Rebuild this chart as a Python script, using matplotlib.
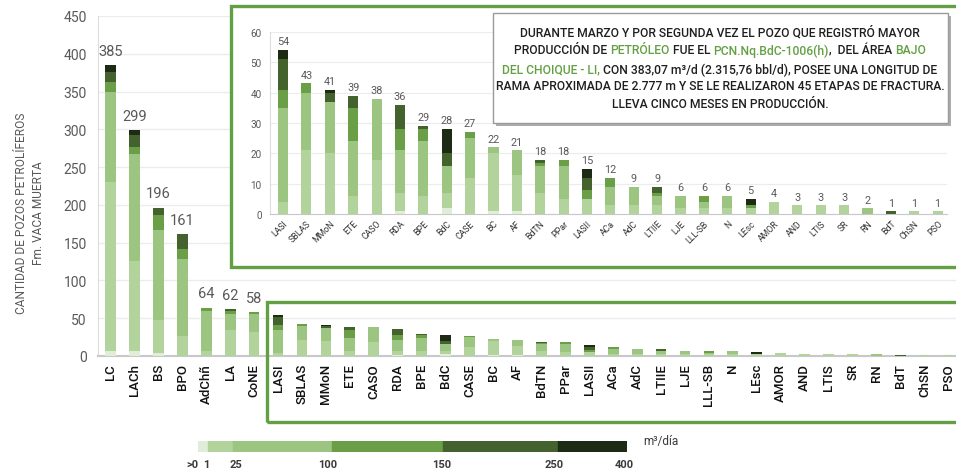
import matplotlib
matplotlib.use('Agg')
import matplotlib.pyplot as plt
import matplotlib.patheffects as pe
from matplotlib.patches import Rectangle
import numpy as np

plt.rcParams['font.family'] = ['Roboto', 'DejaVu Sans']

# categorias (areas)
cats = ['LC', 'LACh', 'BS', 'BPO', 'AdChñ', 'LA', 'CoNE',
        'LASI', 'SBLAS', 'MMoN', 'ETE', 'CASO', 'RDA', 'BPE', 'BdC', 'CASE',
        'BC', 'AF', 'BdTN', 'PPar', 'LASII', 'ACa', 'AdC', 'LTIIE', 'LJE',
        'LLL-SB', 'N', 'LEsc', 'AMOR', 'AND', 'LTIS', 'SR', 'RN', 'BdT',
        'ChSN', 'PSO']

# cantidad de pozos por rango de produccion (m3/dia)
b_0_1 = [6, 7, 4, 0, 0, 0, 0,
         0, 0, 0, 0, 0, 1, 0, 2, 0, 1, 1, 0, 0, 0, 0, 0, 0, 0,
         0, 0, 0, 0, 0, 0, 0, 0, 0, 0, 0]
b_1_25 = [224, 119, 44, 27, 6, 35, 32,
          4, 21, 20, 6, 18, 6, 6, 5, 12, 19, 12, 7, 5, 5, 3, 3, 3, 2,
          2, 2, 2, 4, 3, 3, 3, 0, 0, 1, 1]
b_25_100 = [119, 142, 119, 101, 54, 21, 24,
            31, 19, 17, 18, 20, 14, 18, 9, 13, 2, 8, 9, 11, 0, 6, 6, 3, 4,
            2, 4, 0, 0, 0, 0, 0, 2, 0, 0, 0]
b_100_150 = [13, 8, 19, 13, 4, 3, 2,
             6, 3, 0, 11, 0, 7, 4, 0, 2, 0, 0, 1, 2, 3, 3, 0, 1, 0,
             2, 0, 1, 0, 0, 0, 0, 0, 0, 0, 0]
b_150_250 = [14, 16, 10, 20, 0, 3, 0,
             10, 0, 3, 4, 0, 8, 1, 4, 0, 0, 0, 1, 0, 4, 0, 0, 2, 0,
             0, 0, 0, 0, 0, 0, 0, 0, 1, 0, 0]
b_250_400 = [9, 7, 0, 0, 0, 0, 0,
             3, 0, 1, 0, 0, 0, 0, 8, 0, 0, 0, 0, 0, 3, 0, 0, 0, 0,
             0, 0, 2, 0, 0, 0, 0, 0, 0, 0, 0]

bins = [b_0_1, b_1_25, b_25_100, b_100_150, b_150_250, b_250_400]
colores = ['#e1edd8', '#b2d39b', '#9cc581', '#6a9e47', '#44622d', '#1e2b14']
legend_ticks = ['>0', '1', '25', '100', '150', '250', '400']

totales = np.sum(np.array(bins), axis=0)
n_main = 7

verde = '#62a043'
gris = '#595959'

fig = plt.figure(figsize=(9.56, 4.77), dpi=100)
W, H = 956, 477


def px_axes(x0, y0, x1, y1):
    return fig.add_axes([x0 / W, 1 - y1 / H, (x1 - x0) / W, (y1 - y0) / H])


def stacked(ax, idx, width):
    x = np.arange(len(idx))
    base = np.zeros(len(idx))
    for vals, c in zip(bins, colores):
        v = np.array(vals)[idx]
        ax.bar(x, v, width, bottom=base, color=c, zorder=3)
        base += v
    return x


# grafico principal
ax = px_axes(98, 17, 956, 357)
idx = np.arange(len(cats))
x = stacked(ax, idx, 0.45)
ax.set_xlim(-0.52, 35.32)
ax.set_ylim(0, 450)
ax.set_yticks(range(0, 451, 50))
ax.set_xticks(x)
ax.set_xticklabels(cats, rotation=90, fontsize=9.5, fontweight='medium',
                   color='#111111')
ax.tick_params(axis='y', labelsize=10, colors=gris, length=0, pad=8)
ax.tick_params(axis='x', length=0, pad=5)
ax.grid(axis='y', color='#ececec', lw=1, zorder=0)
for s in ['top', 'right']:
    ax.spines[s].set_visible(False)
ax.spines['left'].set_color('#dcdcdc')
ax.spines['bottom'].set_color('#c8c8c8')
ax.spines['bottom'].set_linewidth(1.5)
for i in range(n_main):
    ax.text(x[i], totales[i] + 10, str(totales[i]), ha='center', va='bottom',
            fontsize=10.5, color=gris)

fig.text(22 / W, 1 - 213 / H, 'CANTIDAD DE POZOS PETROLÍFEROS', rotation=90,
         ha='center', va='center', fontsize=8.6, color=gris)
fig.text(38 / W, 1 - 213 / H, 'Fm. VACA MUERTA', rotation=90,
         ha='center', va='center', fontsize=8.6, color=gris)

# recuadro sobre las barras chicas
fig.patches.append(Rectangle((267 / W, 1 - 423 / H), 700 / W, 120 / H,
                             transform=fig.transFigure, fill=False,
                             ec=verde, lw=2.4, zorder=5))

# recuadro del detalle
fig.patches.append(Rectangle((231 / W, 1 - 268 / H), 740 / W, 261 / H,
                             transform=fig.transFigure, fc='white',
                             ec=verde, lw=2.4, zorder=4))

# detalle
axi = px_axes(270, 32.7, 947, 215.3)
axi.set_zorder(6)
idx_i = np.arange(n_main, len(cats))
xi = stacked(axi, idx_i, 0.43)
axi.set_xlim(-0.56, 28.4)
axi.set_ylim(0, 60)
axi.set_yticks(range(0, 61, 10))
axi.set_xticks(xi)
axi.set_xticklabels([cats[i] for i in idx_i], rotation=45, ha='right',
                    rotation_mode='anchor', fontsize=6.3, color='#333333')
axi.tick_params(axis='y', labelsize=7.2, colors=gris, length=0, pad=6)
axi.tick_params(axis='x', length=0, pad=3)
axi.grid(axis='y', color='#ececec', lw=0.8, zorder=0)
axi.patch.set_alpha(0)
for s in ['top', 'right']:
    axi.spines[s].set_visible(False)
axi.spines['left'].set_color('#dcdcdc')
axi.spines['bottom'].set_color('#c8c8c8')
for j, i in enumerate(idx_i):
    axi.text(xi[j], totales[i] + 1.2, str(totales[i]), ha='center',
             va='bottom', fontsize=7.8, color=gris)

# caja de texto
caja = Rectangle((493 / W, 1 - 124 / H), 455 / W, 110 / H,
                 transform=fig.transFigure, fc='white', ec='#9a9a9a', lw=1,
                 zorder=7)
caja.set_path_effects([pe.withSimplePatchShadow(offset=(2, -2),
                                                shadow_rgbFace='#777777',
                                                alpha=0.6)])
fig.patches.append(caja)

oscuro = '#1f1f1f'
lineas = [
    [("DURANTE MARZO Y POR SEGUNDA VEZ EL POZO QUE REGISTRÓ MAYOR", oscuro)],
    [("PRODUCCIÓN DE ", oscuro), ("PETRÓLEO", verde), (" FUE EL ", oscuro),
     ("PCN.Nq.BdC-1006(h)", verde), (",  DEL ÁREA ", oscuro), ("BAJO", verde)],
    [("DEL CHOIQUE - LI,", verde),
     (" CON 383,07 m³/d (2.315,76 bbl/d), POSEE UNA LONGITUD DE", oscuro)],
    [("RAMA APROXIMADA DE 2.777 m Y SE LE REALIZARON 45 ETAPAS DE FRACTURA.", oscuro)],
    [("LLEVA CINCO MESES EN PRODUCCIÓN.", oscuro)],
]
ys = [33, 51, 70, 87, 104]
kw = dict(fontsize=8.7, fontweight='medium')
renderer = fig.canvas.get_renderer()


def ancho(s):
    t = fig.text(0, 0, s + '|', **kw)
    w = t.get_window_extent(renderer).width
    t.remove()
    t = fig.text(0, 0, '|', **kw)
    w -= t.get_window_extent(renderer).width
    t.remove()
    return w


cx = 720
for partes, y in zip(lineas, ys):
    total = ancho(''.join(p for p, _ in partes))
    x0 = cx - total / 2
    pref = ''
    for p, c in partes:
        off = ancho(pref) if pref else 0
        fig.text((x0 + off) / W, 1 - y / H, p, color=c, ha='left',
                 va='center', zorder=8, **kw)
        pref += p

# leyenda de colores
axl = px_axes(198, 442, 627, 453)
cortes = [0, 0.0226, 0.0816, 0.312, 0.571, 0.839, 1.0]
for k, c in enumerate(colores):
    axl.axvspan(cortes[k], cortes[k + 1], color=c)
axl.set_xlim(0, 1)
axl.set_ylim(0, 1)
axl.axis('off')
lab_x = [192, 206, 236, 328, 442, 554, 624]
for t, lx in zip(legend_ticks, lab_x):
    fig.text(lx / W, 1 - 465 / H, t, ha='center', va='center', fontsize=8,
             fontweight='bold', color='#3a3a3a')
fig.text(643 / W, 1 - 442 / H, 'm³/día', ha='left', va='center',
         fontsize=8.5, color='#3a3a3a')

fig.savefig('out.png', dpi=100)
